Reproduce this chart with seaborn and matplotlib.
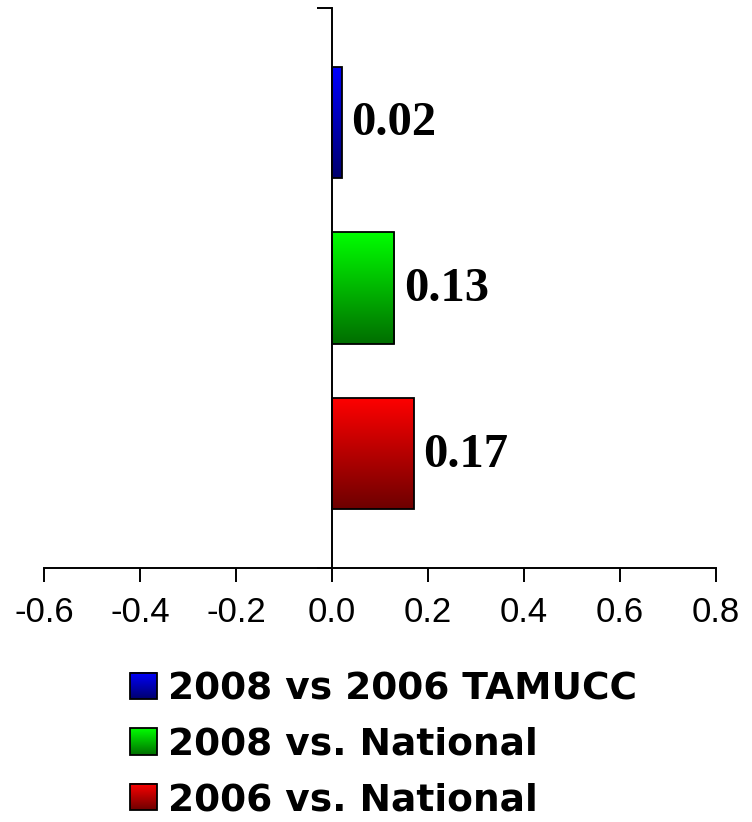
import numpy as np
import matplotlib as mpl
mpl.use("Agg")
from matplotlib import pyplot as plt
import matplotlib.patches as mpatches
from matplotlib.legend_handler import HandlerBase
from matplotlib.image import BboxImage
from matplotlib.transforms import Bbox, TransformedBbox
import seaborn as sns
import pandas as pd

sns.set_theme(style="white")
plt.rcParams["text.color"] = "black"
plt.rcParams["xtick.color"] = "black"
plt.rcParams["ytick.color"] = "black"

series = ["2008 vs 2006 TAMUCC", "2008 vs. National", "2006 vs. National"]
values = [0.02, 0.13, 0.17]
colors = ["#0000ff", "#00ff00", "#ff0000"]
value_labels = ["0.02", "0.13", "0.17"]
xticks = [-0.6, -0.4, -0.2, 0.0, 0.2, 0.4, 0.6, 0.8]

df = pd.DataFrame({"series": series, "value": values})


def gradient(color, n=256):
    rgb = np.array(mpl.colors.to_rgb(color))
    t = np.linspace(0, 1, n)[:, None]
    arr = rgb[None, :] * (1 - 0.57 * t)
    return arr[:, None, :]


class GradientHandler(HandlerBase):
    def create_artists(self, legend, orig_handle, xdescent, ydescent,
                       width, height, fontsize, trans):
        side = min(width, height)
        x0, y0 = -xdescent, -ydescent + (height - side) / 2
        bbox = TransformedBbox(Bbox.from_bounds(x0, y0, side, side), trans)
        img = BboxImage(bbox, interpolation="bilinear")
        img.set_data(gradient(orig_handle.get_facecolor()))
        rect = mpatches.Rectangle((x0, y0), side, side, facecolor="none",
                                  edgecolor="black", lw=1.3, transform=trans)
        return [img, rect]


fig = plt.figure(figsize=(7.52, 8.22), dpi=100)
ax = fig.add_axes([44 / 752, (822 - 568) / 822, 672 / 752, 560 / 822])

sns.barplot(data=df, y="series", x="value", hue="series", palette=colors,
            order=series, hue_order=series, width=0.669, legend=False, ax=ax)

for patch, c in zip(ax.patches, colors):
    x0, y0, w, h = patch.get_x(), patch.get_y(), patch.get_width(), patch.get_height()
    img = ax.imshow(gradient(c), extent=[x0, x0 + w, y0 + h, y0], origin="upper",
                    aspect="auto", interpolation="bilinear", zorder=2)
    img.set_clip_path(patch)
    patch.set_facecolor("none")
    patch.set_edgecolor("black")
    patch.set_linewidth(1.3)
    patch.set_zorder(3)

for patch, lab in zip(ax.patches, value_labels):
    ax.annotate(lab, (patch.get_x() + patch.get_width(), patch.get_y() + patch.get_height() / 2),
                xytext=(7, -1), textcoords="offset points", ha="left", va="center",
                fontsize=35, fontweight="bold", color="black",
                family=["Liberation Serif", "DejaVu Serif"])

ax.set_xlim(-0.6, 0.8)
ax.set_ylim(2.687, -0.687)
ax.set_xticks(xticks)
ax.set_xticklabels([f"{v:.1f}" for v in xticks],
                   fontsize=25, family=["Liberation Sans", "DejaVu Sans"])
ax.set_yticks([-0.687, 2.687])
ax.set_yticklabels([])
ax.set_xlabel("")
ax.set_ylabel("")

for s in ["top", "right"]:
    ax.spines[s].set_visible(False)
ax.spines["left"].set_position(("data", 0))
for s in ["left", "bottom"]:
    ax.spines[s].set_color("black")
    ax.spines[s].set_linewidth(1.4)
ax.tick_params(axis="x", direction="out", length=10, width=1.4, color="black",
               pad=10, bottom=True)
ax.tick_params(axis="y", direction="out", length=11, width=1.4, color="black", left=True)

handles = [mpatches.Patch(facecolor=c) for c in colors]
fig.legend(handles, series, handler_map={mpatches.Patch: GradientHandler()},
           loc="upper left", bbox_to_anchor=(115 / 752, 1 - 656 / 822),
           frameon=False, handlelength=0.72, handleheight=0.72, handletextpad=0.3,
           labelspacing=0.52, borderaxespad=0,
           prop={"family": "DejaVu Sans", "weight": "bold", "size": 27})

fig.savefig("out.png", dpi=100)
